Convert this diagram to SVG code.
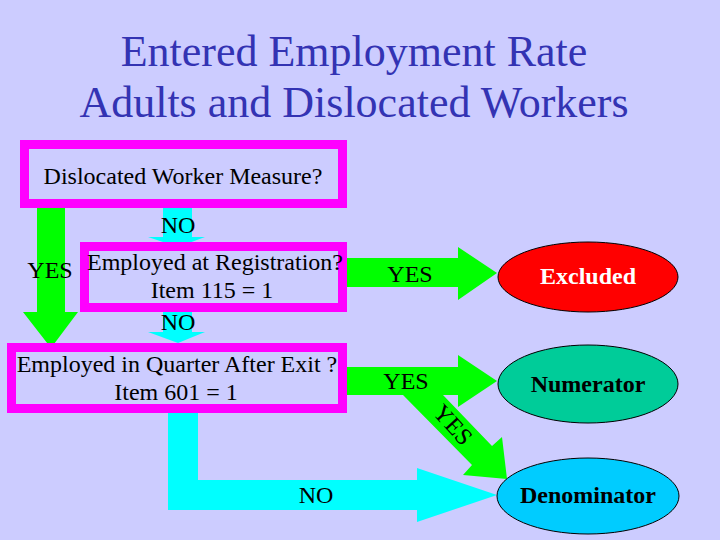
<svg xmlns="http://www.w3.org/2000/svg" width="720" height="540" viewBox="0 0 720 540">
<style>
.t{font-family:"Liberation Serif",Tinos,"Times New Roman",Times,"Nimbus Roman","DejaVu Serif",serif;font-size:24px;fill:#000;text-anchor:middle}
.title{font-family:"Liberation Serif",Tinos,"Times New Roman",Times,"Nimbus Roman","DejaVu Serif",serif;font-size:44px;fill:#3333b3;text-anchor:middle}
.b{font-weight:bold}
.box{fill:none;stroke:#ff00ff;stroke-width:9}
.g{fill:#00ff00}
.c{fill:#00ffff}
.ell{stroke:#000;stroke-width:1}
</style>
<rect width="720" height="540" fill="#ccccff"/>
<text class="title" x="354" y="66" font-family="Liberation Serif, serif">Entered Employment Rate</text>
<text class="title" x="354" y="117" font-family="Liberation Serif, serif">Adults and Dislocated Workers</text>
<g id="connectors">
<polygon class="g" points="37,208 65,208 65,312 78,312 51,348 23,312 37,312"/>
<polygon class="c" points="163,204 192,204 192,237 205,237 178,247 148,237 163,237"/>
<polygon class="c" points="163,308 192,308 192,332 205,332 178,343 148,332 163,332"/>
<polygon class="g" points="340,258 458,258 458,247 497,273 458,300 458,287 340,287"/>
<polygon class="g" points="340,367 458,367 458,355 497,381 458,407 458,395 443,395 492,446 502,437 507,479 463,475 472,465 403,395 340,395"/>
<polygon class="c" points="168,410 198,410 198,480 417,480 417,468 497,495 417,522 417,510 168,510"/>
<text class="t" x="178" y="233">NO</text>
<text class="t" x="178" y="330">NO</text>
<text class="t" x="50" y="278">YES</text>
<text class="t" x="410" y="282">YES</text>
<text class="t" x="406" y="389">YES</text>
<text class="t" x="0" y="0" transform="translate(447,430) rotate(48)">YES</text>
<text class="t" x="316" y="503">NO</text>
</g>
<g id="box1">
<rect class="box" x="24.5" y="144.5" width="318" height="59"/>
<text class="t" x="183" y="184">Dislocated Worker Measure?</text>
</g>
<g id="box2">
<rect class="box" x="84.5" y="246.5" width="258" height="61"/>
<text class="t" x="215" y="270">Employed at Registration?</text>
<text class="t" x="212" y="298">Item 115 = 1</text>
</g>
<g id="box3">
<rect class="box" x="11.5" y="347.5" width="331" height="61"/>
<text class="t" x="177" y="372">Employed in Quarter After Exit ?</text>
<text class="t" x="176" y="400">Item 601 = 1</text>
</g>
<g id="excluded">
<ellipse class="ell" cx="588" cy="277" rx="90" ry="35" fill="#ff0000"/>
<text class="t b" x="588" y="284" style="fill:#fff">Excluded</text>
</g>
<g id="numerator">
<ellipse class="ell" cx="588" cy="384" rx="90" ry="39" fill="#00cc99"/>
<text class="t b" x="588" y="392">Numerator</text>
</g>
<g id="denominator">
<ellipse class="ell" cx="588" cy="496" rx="91" ry="38" fill="#00ccff"/>
<text class="t b" x="588" y="503">Denominator</text>
</g>
</svg>
